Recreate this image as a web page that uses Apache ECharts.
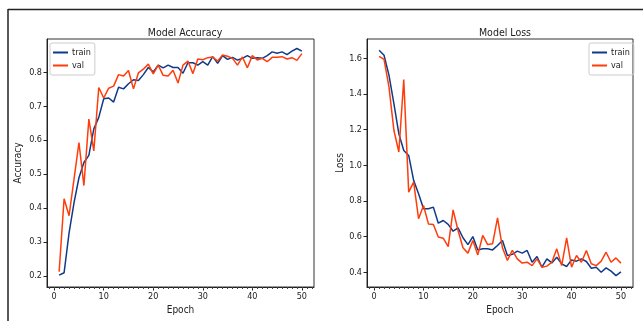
<!DOCTYPE html>
<html>
<head>
<meta charset="utf-8">
<script src="https://cdn.jsdelivr.net/npm/echarts@6/dist/echarts.min.js"></script>
<style>
  html, body { margin: 0; padding: 0; background: #fff; }
  #chart { width: 643px; height: 321px; }
</style>
</head>
<body>
<div id="chart"></div>
<script>
const epochs = [1, 2, 3, 4, 5, 6, 7, 8, 9, 10, 11, 12, 13, 14, 15, 16, 17, 18, 19, 20,
  21, 22, 23, 24, 25, 26, 27, 28, 29, 30, 31, 32, 33, 34, 35, 36, 37, 38, 39, 40,
  41, 42, 43, 44, 45, 46, 47, 48, 49, 50];

const trainAcc = [0.202, 0.209, 0.326, 0.415, 0.489, 0.534, 0.555, 0.633, 0.667, 0.722,
  0.724, 0.712, 0.756, 0.751, 0.766, 0.778, 0.776, 0.793, 0.814, 0.801,
  0.821, 0.813, 0.821, 0.814, 0.814, 0.797, 0.828, 0.828, 0.821, 0.831,
  0.821, 0.846, 0.826, 0.849, 0.838, 0.844, 0.836, 0.841, 0.849, 0.841,
  0.843, 0.841, 0.849, 0.860, 0.856, 0.860, 0.852, 0.862, 0.870, 0.862];
const valAcc = [0.212, 0.427, 0.377, 0.484, 0.593, 0.466, 0.662, 0.568, 0.755, 0.724,
  0.753, 0.759, 0.793, 0.789, 0.805, 0.751, 0.798, 0.809, 0.824, 0.795,
  0.821, 0.791, 0.789, 0.806, 0.768, 0.821, 0.833, 0.796, 0.839, 0.837,
  0.843, 0.845, 0.833, 0.851, 0.847, 0.841, 0.821, 0.845, 0.813, 0.849,
  0.836, 0.841, 0.831, 0.844, 0.844, 0.846, 0.839, 0.843, 0.835, 0.855];

const trainLoss = [1.645, 1.617, 1.505, 1.345, 1.177, 1.083, 1.055, 0.915, 0.840, 0.756,
  0.756, 0.765, 0.675, 0.690, 0.668, 0.630, 0.649, 0.593, 0.555, 0.600,
  0.525, 0.531, 0.531, 0.525, 0.550, 0.578, 0.494, 0.500, 0.518, 0.507,
  0.522, 0.456, 0.488, 0.428, 0.475, 0.452, 0.484, 0.447, 0.432, 0.469,
  0.462, 0.475, 0.460, 0.422, 0.428, 0.400, 0.424, 0.406, 0.381, 0.402];
const valLoss = [1.611, 1.594, 1.439, 1.196, 1.074, 1.480, 0.849, 0.905, 0.700, 0.774,
  0.671, 0.668, 0.597, 0.591, 0.544, 0.750, 0.634, 0.537, 0.507, 0.578,
  0.497, 0.606, 0.555, 0.559, 0.705, 0.537, 0.466, 0.522, 0.475, 0.451,
  0.456, 0.437, 0.475, 0.428, 0.434, 0.456, 0.531, 0.437, 0.593, 0.428,
  0.494, 0.456, 0.522, 0.447, 0.437, 0.462, 0.512, 0.456, 0.480, 0.451];

const xTicks = [0, 10, 20, 30, 40, 50];
const xMinorTicks = [-1, 0, 1, 2, 3, 4, 5, 6, 7, 8, 9, 10, 11, 12, 13, 14, 15, 16, 17, 18, 19,
  20, 21, 22, 23, 24, 25, 26, 27, 28, 29, 30, 31, 32, 33, 34, 35, 36, 37, 38, 39,
  40, 41, 42, 43, 44, 45, 46, 47, 48, 49, 50, 51, 52];
const accTicks = [0.2, 0.3, 0.4, 0.5, 0.6, 0.7, 0.8];
const lossTicks = [0.4, 0.6, 0.8, 1.0, 1.2, 1.4, 1.6];

const FONT = '"Liberation Sans Narrow", "DejaVu Sans Condensed", "Liberation Sans", sans-serif';
const TXT = '#222';
const TRAIN = '#0f3a8a';
const VAL = '#ff3d0a';

const pair = (xs, ys) => xs.map((x, i) => [x, ys[i]]);

const mainX = (gridIndex) => ({
  type: 'value',
  gridIndex,
  min: -1.45,
  max: 52.45,
  name: 'Epoch',
  nameLocation: 'middle',
  nameGap: 18,
  nameTextStyle: { color: TXT, fontSize: 10, fontFamily: FONT },
  splitLine: { show: false },
  axisLine: { onZero: false, lineStyle: { color: '#222', width: 1 } },
  axisTick: { customValues: xTicks, length: 3.5, lineStyle: { color: '#222' } },
  axisLabel: { customValues: xTicks, color: TXT, fontSize: 9, fontFamily: FONT, margin: 5 },
});

const minorX = (gridIndex) => ({
  type: 'value',
  gridIndex,
  min: -1.45,
  max: 52.45,
  position: 'bottom',
  splitLine: { show: false },
  axisLine: { show: false, onZero: false },
  axisTick: { customValues: xMinorTicks, length: 2, lineStyle: { color: '#444' } },
  axisLabel: { show: false },
});

const mainY = (gridIndex, min, max, ticks, name, gap) => ({
  type: 'value',
  gridIndex,
  min,
  max,
  name,
  nameLocation: 'middle',
  nameGap: gap,
  nameTextStyle: { color: TXT, fontSize: 10, fontFamily: FONT },
  splitLine: { show: false },
  axisLine: { onZero: false, lineStyle: { color: '#222', width: 1 } },
  axisTick: { customValues: ticks, length: 3.5, lineStyle: { color: '#222' } },
  axisLabel: {
    customValues: ticks,
    color: TXT,
    fontSize: 9,
    fontFamily: FONT,
    margin: 5,
    formatter: (v) => v.toFixed(1),
  },
});

const lineSeries = (name, xi, yi, data, color) => ({
  name,
  type: 'line',
  xAxisIndex: xi,
  yAxisIndex: yi,
  data,
  showSymbol: false,
  symbol: 'none',
  animation: false,
  lineStyle: { color, width: 1.5 },
  itemStyle: { color },
});

const legendBox = (gridIndex, pos) => Object.assign({
  orient: 'vertical',
  top: 43,
  data: ['train', 'val'],
  icon: 'rect',
  itemWidth: 15,
  itemHeight: 2,
  itemGap: 4,
  padding: [5, 4, 5, 3],
  borderColor: '#ccc',
  borderWidth: 1,
  borderRadius: 2,
  textStyle: { color: TXT, fontSize: 9, fontFamily: FONT, padding: [0, 0, 0, -1] },
}, pos);

const option = {
  backgroundColor: '#fff',
  animation: false,
  title: [
    {
      text: 'Model Accuracy',
      left: 180,
      top: 23,
      textAlign: 'center',
      textStyle: { color: TXT, fontSize: 10.5, fontWeight: 'normal', fontFamily: FONT },
    },
    {
      text: 'Model Loss',
      left: 500,
      top: 23,
      textAlign: 'center',
      textStyle: { color: TXT, fontSize: 10.5, fontWeight: 'normal', fontFamily: FONT },
    },
  ],
  grid: [
    { left: 47, top: 39, width: 267, height: 248, show: true, borderColor: '#333', borderWidth: 1 },
    { left: 367, top: 39, width: 266, height: 248, show: true, borderColor: '#333', borderWidth: 1 },
  ],
  xAxis: [mainX(0), minorX(0), mainX(1), minorX(1)],
  yAxis: [
    mainY(0, 0.167, 0.898, accTicks, 'Accuracy', 24),
    mainY(1, 0.317, 1.708, lossTicks, 'Loss', 22),
  ],
  legend: [
    legendBox(0, { left: 50 }),
    legendBox(1, { left: 589 }),
  ],
  series: [
    lineSeries('train', 0, 0, pair(epochs, trainAcc), TRAIN),
    lineSeries('val', 0, 0, pair(epochs, valAcc), VAL),
    lineSeries('train', 2, 1, pair(epochs, trainLoss), TRAIN),
    lineSeries('val', 2, 1, pair(epochs, valLoss), VAL),
  ],
  graphic: [
    { type: 'line', shape: { x1: 8, y1: 9.5, x2: 643, y2: 9.5 }, style: { stroke: '#222', lineWidth: 1.5 } },
    { type: 'line', shape: { x1: 8, y1: 9, x2: 8, y2: 321 }, style: { stroke: '#222', lineWidth: 1.5 } },
  ],
};

const chart = echarts.init(document.getElementById('chart'));
chart.setOption(option);
</script>
</body>
</html>
